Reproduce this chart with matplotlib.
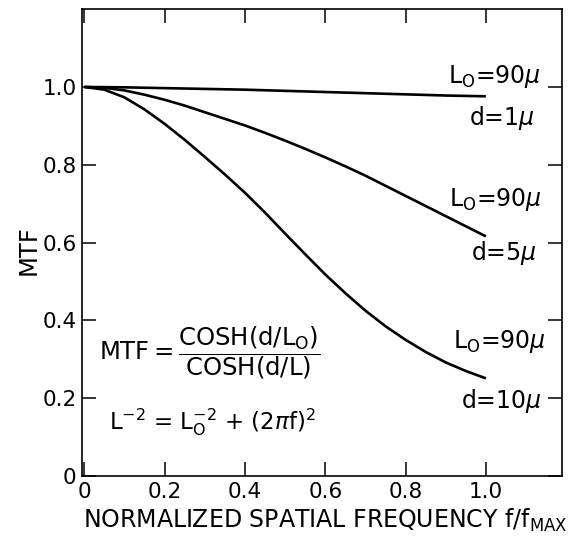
import matplotlib.pyplot as plt
import numpy as np

plt.rcParams['font.family'] = 'DejaVu Sans'
plt.rcParams['mathtext.fontset'] = 'dejavusans'

# normalized spatial frequency f/fmax
freq = [0.0, 0.05, 0.1, 0.15, 0.2, 0.25, 0.3, 0.35, 0.4, 0.45, 0.5,
        0.55, 0.6, 0.65, 0.7, 0.75, 0.8, 0.85, 0.9, 0.95, 1.0]
# MTF curves, L0 = 90 um
mtf_d1 = [1.0, 0.9995, 0.999, 0.998, 0.997, 0.996, 0.995, 0.994, 0.993, 0.9915, 0.990,
          0.9885, 0.987, 0.9855, 0.984, 0.9825, 0.981, 0.9795, 0.978, 0.977, 0.976]
mtf_d5 = [1.0, 0.998, 0.991, 0.980, 0.967, 0.952, 0.935, 0.918, 0.901, 0.882, 0.862,
          0.841, 0.819, 0.796, 0.772, 0.746, 0.720, 0.694, 0.668, 0.642, 0.616]
mtf_d10 = [1.0, 0.993, 0.973, 0.942, 0.905, 0.864, 0.820, 0.775, 0.728, 0.677, 0.623,
           0.570, 0.518, 0.470, 0.425, 0.385, 0.350, 0.319, 0.292, 0.270, 0.251]

xticks = [0, 0.2, 0.4, 0.6, 0.8, 1.0]
xticklabels = ['0', '0.2', '0.4', '0.6', '0.8', '1.0']
yticks = [0, 0.2, 0.4, 0.6, 0.8, 1.0]
yticklabels = ['0', '0.2', '0.4', '0.6', '0.8', '1.0']

fig = plt.figure(figsize=(5.88, 5.38), dpi=100)
ax = fig.add_axes([0.1395, 0.1152, 0.8165, 0.8678])

for curva in (mtf_d1, mtf_d5, mtf_d10):
    ax.plot(freq, curva, color='black', lw=1.9, solid_capstyle='butt')

ax.set_xlim(-0.006, 1.19)
ax.set_ylim(0, 1.2)
ax.set_xticks(xticks)
ax.set_xticklabels(xticklabels)
ax.set_yticks(yticks)
ax.set_yticklabels(yticklabels)
ax.tick_params(direction='in', length=10, width=1.1, top=True, right=True,
               labelsize=15.5, pad=4)
for s in ax.spines.values():
    s.set_linewidth(1.2)

ax.set_ylabel('MTF', fontsize=17.5, va='center')
ax.yaxis.set_label_coords(-0.112, 0.484)
ax.set_xlabel(r'NORMALIZED SPATIAL FREQUENCY f/f$_\mathrm{MAX}$', fontsize=17, va='center')
ax.xaxis.set_label_coords(0.506, -0.094)

# curve labels
etiq = dict(fontsize=17, ha='center', va='center')
ax.text(1.021, 1.026, r'L$_\mathrm{O}$=90$\mu$', **etiq)
ax.text(1.039, 0.920, r'd=1$\mu$', **etiq)
ax.text(1.024, 0.710, r'L$_\mathrm{O}$=90$\mu$', **etiq)
ax.text(1.046, 0.574, r'd=5$\mu$', **etiq)
ax.text(1.034, 0.346, r'L$_\mathrm{O}$=90$\mu$', **etiq)
ax.text(1.039, 0.192, r'd=10$\mu$', **etiq)

# formula
ax.text(0.036, 0.318, r'MTF$=\dfrac{\mathrm{COSH(d/L_O)}}{\mathrm{COSH(d/L)}}$',
        fontsize=17.5, ha='left', va='center')
ax.text(0.061, 0.12, r'L$^{-2}$ = L$_\mathrm{O}^{-2}$ + (2$\pi$f)$^2$',
        fontsize=16.5, ha='left', va='baseline')

plt.savefig('out.png', dpi=100)
